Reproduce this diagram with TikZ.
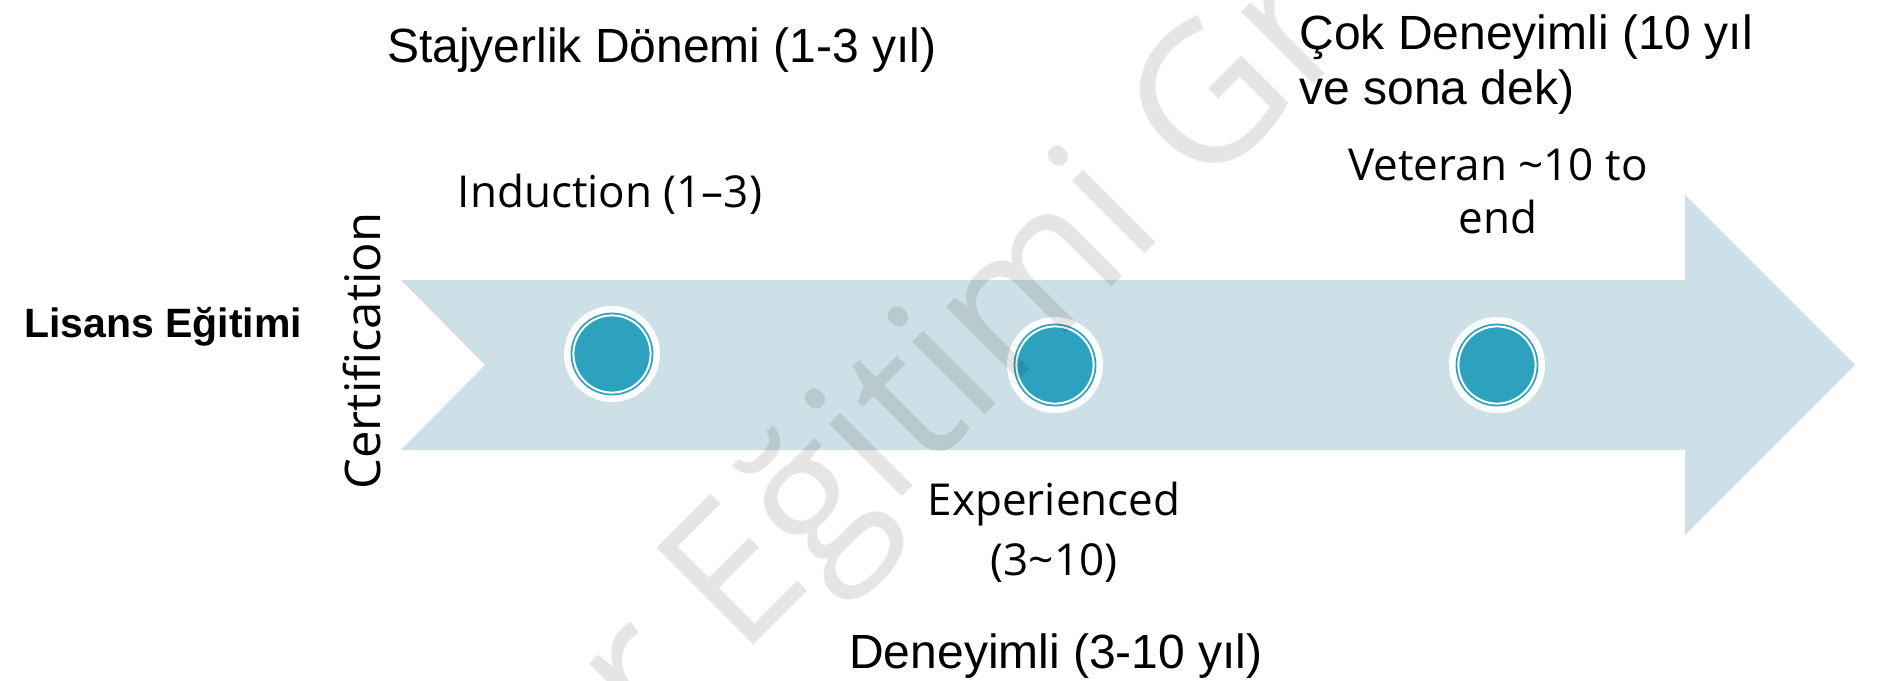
\documentclass[tikz,border=0pt]{standalone}
\usepackage{fontspec}
\setmainfont{Liberation Sans}
\newfontfamily\slidefont{Open Sans}
\definecolor{arrowblue}{RGB}{205,224,232}
\definecolor{dotteal}{RGB}{45,162,191}
\tikzset{
  halo/.style={circle, fill=white, minimum size=48pt, inner sep=0pt},
  trtext/.style={font=\fontsize{24}{27.5}\selectfont, inner sep=0pt},
  entext/.style={font=\slidefont\fontsize{22}{26.5}\selectfont, inner sep=0pt},
  stamp/.style={font=\slidefont\fontsize{96}{110}\selectfont, text=black, text opacity=0.1, inner sep=0pt}
}
\begin{document}
\begin{tikzpicture}[x=0.5pt, y=-0.5pt]
    \useasboundingbox (0,0) rectangle (1878,680);
    \fill[arrowblue] (401,280) -- (1685,280) -- (1685,195) -- (1855,365)
        -- (1685,535) -- (1685,450) -- (401,450) -- (485,365) -- cycle;
    \foreach \n/\px/\py in {1/612/354, 2/1055/365, 3/1497/365} {
        \node[halo] (dot\n) at (\px,\py) {};
        \fill[dotteal] (dot\n.center) circle (20.7pt);
        \draw[white, line width=1pt] (dot\n.center) circle (19.3pt);
    }
    \node[font=\bfseries\fontsize{20.5}{24}\selectfont, inner sep=0pt, anchor=base] (lisans) at (163,337) {Lisans Eğitimi};
    \node[font=\slidefont\fontsize{24.5}{28}\selectfont, inner sep=0pt, rotate=90, anchor=base] (cert) at (380,351) {Certification};
    \node[trtext, anchor=base] (stajyer) at (662,62) {Stajyerlik Dönemi (1-3 yıl)};
    % multi-line nodes: base is the last line
    \node[trtext, anchor=base west, align=left] (cok) at (1299,104) {Çok Deneyimli (10 yıl\\ve sona dek)};
    \node[trtext, anchor=base] (deneyimli) at (1056,668) {Deneyimli (3-10 yıl)};
    \node[entext, anchor=base] (induction) at (610,207) {Induction (1–3)};
    \node[entext, anchor=base, align=center] (veteran) at (1498,233) {Veteran \textasciitilde10 to\\end};
    \node[entext, anchor=base, align=center, font=\slidefont\fontsize{22}{30}\selectfont] (experienced) at (1054,575) {Experienced\\(3\textasciitilde10)};
    \begin{scope}
        \clip (0,0) rectangle (1878,680);
        \node[stamp, rotate=45, anchor=base west] (mark) at (650,749) {r Eğitimi Gr};
    \end{scope}
\end{tikzpicture}
\end{document}
